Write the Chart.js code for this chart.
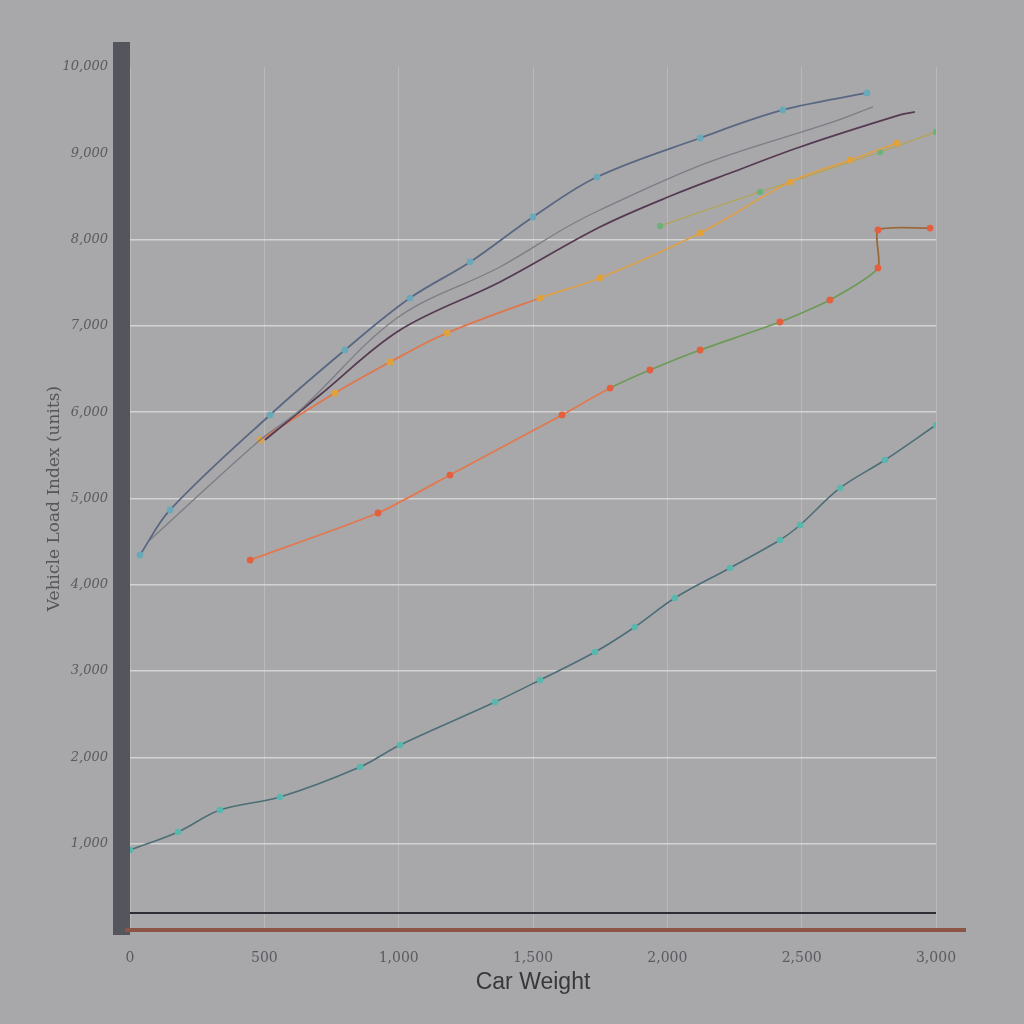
<!DOCTYPE html>
<html>
<head>
<meta charset="utf-8">
<script src="https://cdn.jsdelivr.net/npm/chart.js@4.4.0/dist/chart.umd.min.js"></script>
<style>
  html, body { margin: 0; padding: 0; background: #a8a8aa; }
  #wrap { width: 1024px; height: 1024px; }
</style>
</head>
<body>
<div id="wrap"><canvas id="weightChart" width="1024" height="1024"></canvas></div>
<script>
// tick values
const weightTicks = [0, 500, 1000, 1500, 2000, 2500, 3000];
const valueTicks = [1000, 2000, 3000, 4000, 5000, 6000, 7000, 8000, 9000, 10000];

// series (x = car weight, y = value)
const slateX = [37, 149, 521, 800, 1042, 1266, 1500, 1738, 2122, 2430, 2743];
const slateY = [4345, 4867, 5968, 6721, 7323, 7741, 8262, 8725, 9177, 9502, 9699];

const greyX = [74, 484, 633, 994, 1377, 1626, 1749, 2147, 2617, 2765];
const greyY = [4519, 5678, 6025, 7092, 7683, 8146, 8343, 8888, 9363, 9537];

const plumX = [502, 707, 1005, 1377, 1749, 2021, 2244, 2494, 2866, 2921];
const plumY = [5678, 6199, 6952, 7509, 8146, 8517, 8783, 9073, 9444, 9479];

const goldX = [484, 763, 968, 1180, 1526, 1749, 2122, 2457, 2680, 2855];
const goldY = [5678, 6222, 6582, 6918, 7323, 7555, 8077, 8667, 8922, 9119];

const oliveX = [1973, 2345, 2792, 3000];
const oliveY = [8158, 8552, 9015, 9247];

const orangeX = [447, 923, 1191, 1608, 1787, 1935, 2122, 2419, 2605, 2784, 2784, 2978];
const orangeY = [4287, 4832, 5272, 5968, 6280, 6489, 6721, 7045, 7300, 7671, 8111, 8134];

const tealX = [0, 179, 335, 558, 856, 1005, 1359, 1526, 1731, 1879, 2028, 2233, 2419, 2494, 2643, 2810, 3000];
const tealY = [927, 1136, 1390, 1541, 1889, 2144, 2642, 2897, 3221, 3511, 3847, 4195, 4519, 4693, 5122, 5446, 5852];

function pts(xs, ys) {
    return xs.map((x, i) => ({ x: x, y: ys[i] }));
}

function series(label, xs, ys, color, pointColor, extra) {
    return Object.assign({
        label: label,
        data: pts(xs, ys),
        showLine: true,
        borderColor: color,
        backgroundColor: pointColor,
        pointBackgroundColor: pointColor,
        pointBorderColor: pointColor,
        borderWidth: 1.8,
        pointRadius: 2.5,
        tension: 0.35,
        fill: false
    }, extra || {});
}

// background + heavy left bar + bottom rules
const decor = {
    id: 'decor',
    beforeDraw(chart) {
        const c = chart.ctx;
        c.save();
        c.fillStyle = '#a8a8aa';
        c.fillRect(0, 0, chart.width, chart.height);
        c.restore();
    },
    afterDraw(chart) {
        const c = chart.ctx, a = chart.chartArea;
        c.save();
        c.fillStyle = '#55555d';
        c.fillRect(a.left - 17, a.top - 25, 17, a.bottom - a.top + 30);
        c.strokeStyle = '#2e2e34';
        c.lineWidth = 2;
        c.beginPath();
        c.moveTo(a.left, a.bottom - 17);
        c.lineTo(a.right, a.bottom - 17);
        c.stroke();
        c.strokeStyle = '#8c5444';
        c.lineWidth = 4;
        c.beginPath();
        c.moveTo(a.left - 5, a.bottom);
        c.lineTo(a.right + 30, a.bottom);
        c.stroke();
        c.restore();
    }
};

new Chart(document.getElementById('weightChart'), {
    type: 'scatter',
    data: {
        datasets: [
            series('Series A', slateX, slateY, '#5a6783', '#6aa9b8'),
            series('Series B', greyX, greyY, '#7c7c86', '#7a7a90', { borderWidth: 1.3, pointRadius: 0 }),
            series('Series C', plumX, plumY, '#553a52', '#9a6aa6', { pointRadius: 0 }),
            series('Series D', goldX, goldY, '#e29a48', '#e2a23a', {
                segment: { borderColor: ctx => ctx.p0DataIndex < 4 ? '#e0764a' : '#dda14c' }
            }),
            series('Series E', oliveX, oliveY, '#b4a35a', '#6bb27a', { borderWidth: 1.3 }),
            series('Series F', orangeX, orangeY, '#e2784e', '#e2603e', {
                tension: 0.2,
                segment: {
                    borderColor: ctx => ctx.p0DataIndex < 4 ? '#e2784e'
                        : (ctx.p0DataIndex < 9 ? '#6e9a58' : '#9a6a3a')
                }
            }),
            series('Series G', tealX, tealY, '#4c6e76', '#5ab7ae', { borderWidth: 1.6 })
        ]
    },
    options: {
        responsive: false,
        animation: false,
        layout: { padding: { top: 67, right: 88, left: 40, bottom: 24 } },
        plugins: {
            legend: { display: false },
            tooltip: { enabled: false }
        },
        scales: {
            x: {
                type: 'linear',
                min: 0,
                max: 3000,
                afterBuildTicks: scale => { scale.ticks = weightTicks.map(v => ({ value: v })); },
                afterFit: scale => { scale.height = 70; },
                border: { display: false },
                grid: { color: 'rgba(235,235,235,0.25)', lineWidth: 1, drawTicks: false },
                ticks: {
                    padding: 20,
                    color: '#5a5a60',
                    font: { family: 'DejaVu Serif', size: 14 }
                },
                title: {
                    display: true,
                    text: 'Car Weight',
                    color: '#38383c',
                    padding: { top: 0 },
                    font: { family: 'Liberation Sans', size: 23 }
                }
            },
            y: {
                type: 'linear',
                min: 0,
                max: 10000,
                afterBuildTicks: scale => { scale.ticks = valueTicks.map(v => ({ value: v })); },
                afterFit: scale => { scale.width = 90; },
                border: { display: false },
                grid: {
                    color: ctx => (ctx.tick && ctx.tick.value < 9000) ? 'rgba(225,225,225,0.75)' : 'rgba(0,0,0,0)',
                    lineWidth: 1.5,
                    drawTicks: false
                },
                ticks: {
                    padding: 22,
                    color: '#5a5a60',
                    font: { family: 'DejaVu Serif', size: 13, style: 'italic' },
                    callback: v => v.toLocaleString('en-US')
                },
                title: {
                    display: true,
                    text: 'Vehicle Load Index (units)',
                    color: '#55555a',
                    padding: { bottom: 4 },
                    font: { family: 'DejaVu Serif', size: 17 }
                }
            }
        }
    },
    plugins: [decor]
});
</script>
</body>
</html>
